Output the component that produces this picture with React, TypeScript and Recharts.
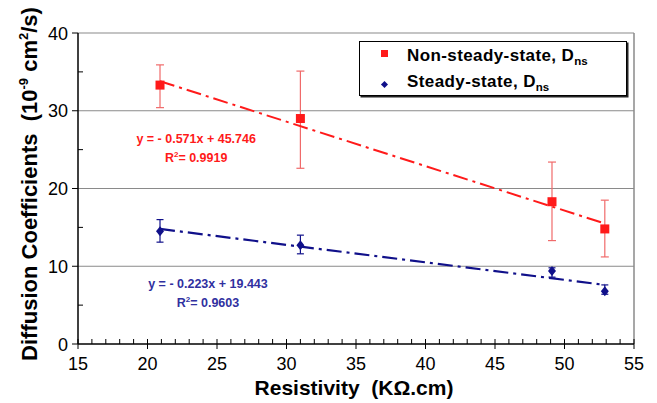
import React from "react";
import {
  ComposedChart,
  Scatter,
  XAxis,
  YAxis,
  ErrorBar,
  ReferenceLine,
  ReferenceDot,
} from "recharts";

const FONT = '"Liberation Sans", Arial, Helvetica, sans-serif';

// values
const resistivity = [20.9, 31.0, 49.1, 52.9];
const nonSteady = [33.3, 29.0, 18.3, 14.8];
const nonSteadyLow = [30.4, 22.6, 13.3, 11.2];
const nonSteadyHigh = [35.9, 35.1, 23.4, 18.5];
const steady = [14.5, 12.7, 9.4, 6.8];
const steadyLow = [13.1, 11.6, 8.6, 6.4];
const steadyHigh = [16.0, 14.0, 9.8, 7.6];

// fitted lines, ends as drawn
const trendX = [20.9, 52.9];
const nonSteadyTrend = [33.8, 15.5];
const steadyTrend = [14.8, 7.6];

const xTicks = Array.from({ length: 41 }, (_, i) => 15 + i);
const yTicks = [0, 5, 10, 15, 20, 25, 30, 35, 40];
const gridY = [10, 20, 30, 40];

const nsFit = { x: 23.5, y: 25.85, eq: "y = - 0.571x + 45.746", r2: "0.9919" };
const sFit = { x: 24.35, y: 7.2, eq: "y = - 0.223x + 19.443", r2: "0.9603" };

const RED = "#ff1a1a";
const RED_ERR = "#f06a6a";
const BLUE = "#10108a";
const BLUE_TXT = "#3030a0";
const GRID = "#8a8a8a";

const points = resistivity.map((x, i) => ({
  x,
  ns: nonSteady[i],
  nsErr: [nonSteady[i] - nonSteadyLow[i], nonSteadyHigh[i] - nonSteady[i]],
  s: steady[i],
  sErr: [steady[i] - steadyLow[i], steadyHigh[i] - steady[i]],
}));

const trend = trendX.map((x, i) => ({ x, ns: nonSteadyTrend[i], s: steadyTrend[i] }));

function XTick(props: any) {
  const { x, y, payload } = props;
  const v = payload.value;
  const major = v % 5 === 0;
  return (
    <g>
      <line x1={x} x2={x} y1={y - 5} y2={major ? y + 5 : y} stroke="#000" strokeWidth={1} />
      {major && (
        <text x={x} y={y + 26} textAnchor="middle" fontSize={18} fontFamily={FONT} fill="#000">
          {v}
        </text>
      )}
    </g>
  );
}

function YTick(props: any) {
  const { x, y, payload } = props;
  const v = payload.value;
  const major = v % 10 === 0;
  return (
    <g>
      <line x1={major ? x - 6 : x} x2={major ? x : x + 5} y1={y} y2={y} stroke="#000" strokeWidth={1} />
      {major && (
        <text x={x - 10} y={y + 6.5} textAnchor="end" fontSize={18} fontFamily={FONT} fill="#000">
          {v}
        </text>
      )}
    </g>
  );
}

const Square = (props: any) => {
  const { cx, cy } = props;
  return <rect x={cx - 4.5} y={cy - 4.5} width={9} height={9} fill={RED} />;
};

const Diamond = (props: any) => {
  const { cx, cy } = props;
  return <path d={`M${cx},${cy - 5} L${cx + 4},${cy} L${cx},${cy + 5} L${cx - 4},${cy} Z`} fill={BLUE} />;
};

const NoDot = () => <g />;

const fitLabel = (fit: typeof nsFit, color: string) => (props: any) => {
  const { cx, cy } = props;
  return (
    <g fontFamily={FONT} fontWeight="bold" fontSize={12.5} fill={color}>
      <text x={cx} y={cy} textAnchor="middle">
        {fit.eq}
      </text>
      <text x={cx} y={cy + 19} textAnchor="middle">
        R<tspan dy={-5} fontSize={8}>2</tspan>
        <tspan dy={5}>= {fit.r2}</tspan>
      </text>
    </g>
  );
};

function LegendBox() {
  const row: React.CSSProperties = {
    position: "absolute",
    left: 47,
    fontFamily: FONT,
    fontWeight: "bold",
    fontSize: 17,
    letterSpacing: 0.4,
    color: "#000",
    whiteSpace: "nowrap",
    lineHeight: "20px",
  };
  const sub: React.CSSProperties = { fontSize: 11.5, position: "relative", top: 4, letterSpacing: 0 };
  return (
    <div
      style={{
        position: "absolute",
        left: 359,
        top: 41,
        width: 266,
        height: 53,
        border: "1.5px solid #000",
        boxShadow: "1.5px 1.5px 0 #222",
        background: "#fff",
      }}
    >
      <div style={{ position: "absolute", left: 21, top: 8, width: 7, height: 7, background: RED }} />
      <div style={{ ...row, top: 4 }}>
        Non-steady-state, D<span style={sub}>ns</span>
      </div>
      <div
        style={{
          position: "absolute",
          left: 22,
          top: 40,
          width: 5,
          height: 5,
          background: BLUE,
          transform: "rotate(45deg)",
        }}
      />
      <div style={{ ...row, top: 30 }}>
        Steady-state, D<span style={sub}>ns</span>
      </div>
    </div>
  );
}

export default function App() {
  return (
    <div style={{ position: "absolute", left: 0, top: 0, width: 657, height: 403, background: "#fff" }}>
      <ComposedChart width={657} height={403} margin={{ top: 33, right: 23, bottom: 29, left: 38 }}>
        {gridY.map((v) => (
          <ReferenceLine key={v} y={v} stroke={GRID} strokeWidth={1.2} />
        ))}
        <ReferenceLine x={55} stroke={GRID} strokeWidth={1.5} />
        <XAxis
          dataKey="x"
          type="number"
          domain={[15, 55]}
          ticks={xTicks}
          interval={0}
          tickSize={0}
          tickMargin={0}
          tickLine={false}
          tick={<XTick />}
          height={30}
          axisLine={{ stroke: "#000", strokeWidth: 1.5 }}
          allowDataOverflow
          label={{
            content: (p: any) => {
              const vb = p.viewBox;
              return (
                <text
                  x={vb.x + vb.width / 2 - 2}
                  y={395}
                  textAnchor="middle"
                  fontFamily={FONT}
                  fontWeight="bold"
                  fontSize={21}
                  fill="#000"
                  xmlSpace="preserve"
                >
                  {"Resistivity  (KΩ.cm)"}
                </text>
              );
            },
          }}
        />
        <YAxis
          type="number"
          domain={[0, 40]}
          ticks={yTicks}
          interval={0}
          tickSize={0}
          tickMargin={0}
          tickLine={false}
          tick={<YTick />}
          width={40}
          axisLine={{ stroke: "#000", strokeWidth: 1.5 }}
          allowDataOverflow
          label={{
            content: () => (
              <text
                x={37}
                y={184}
                transform="rotate(-90 37 184)"
                textAnchor="middle"
                fontFamily={FONT}
                fontWeight="bold"
                fontSize={22}
                fill="#000"
                xmlSpace="preserve"
              >
                {"Diffusion Coefficients  (10"}
                <tspan dy={-9} fontSize={13}>-9</tspan>
                <tspan dy={9}>{" cm"}</tspan>
                <tspan dy={-9} fontSize={13}>2</tspan>
                <tspan dy={9}>/s)</tspan>
              </text>
            ),
          }}
        />
        <Scatter
          data={trend}
          dataKey="ns"
          shape={NoDot}
          line={{ stroke: RED, strokeWidth: 2, strokeDasharray: "15 5 3 5" }}
          isAnimationActive={false}
        />
        <Scatter
          data={trend}
          dataKey="s"
          shape={NoDot}
          line={{ stroke: BLUE, strokeWidth: 2.2, strokeDasharray: "15 5 3 5" }}
          isAnimationActive={false}
        />
        <Scatter data={points} dataKey="ns" shape={Square} isAnimationActive={false}>
          <ErrorBar dataKey="nsErr" direction="y" width={4} stroke={RED_ERR} strokeWidth={1.2} isAnimationActive={false} />
        </Scatter>
        <Scatter data={points} dataKey="s" shape={Diamond} isAnimationActive={false}>
          <ErrorBar dataKey="sErr" direction="y" width={3.5} stroke={BLUE} strokeWidth={1.2} isAnimationActive={false} />
        </Scatter>
        <ReferenceDot x={nsFit.x} y={nsFit.y} r={0} shape={fitLabel(nsFit, RED)} />
        <ReferenceDot x={sFit.x} y={sFit.y} r={0} shape={fitLabel(sFit, BLUE_TXT)} />
      </ComposedChart>
      <LegendBox />
    </div>
  );
}
